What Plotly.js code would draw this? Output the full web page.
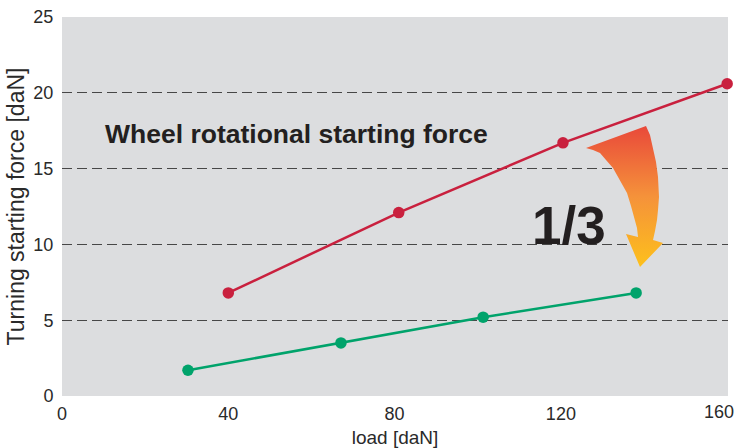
<!DOCTYPE html>
<html>
<head>
<meta charset="utf-8">
<script src="https://cdn.plot.ly/plotly-3.0.1.min.js"></script>
<style>html,body{margin:0;padding:0;background:#fff;}#chart{width:738px;height:448px;}</style>
</head>
<body>
<div id="chart"></div>
<script>
// ---- data ----
var wheelLoad = [40, 81, 120.5, 160];
var wheelForce = [6.8, 12.1, 16.7, 20.6];
var newLoad = [30.3, 67.1, 101.3, 138.1];
var newForce = [1.7, 3.5, 5.2, 6.8];
var xTicks = [0, 40, 80, 120, 160];
var yTicks = [0, 5, 10, 15, 20, 25];
var seriesLabel = "Wheel rotational starting force";
var ratioLabel = "1/3";

// ---- layout geometry ----
var W = 738, H = 448;
var M = {l: 62, r: 10, t: 17, b: 52};
var xMax = 160.2, yMax = 25;
var pw = W - M.l - M.r, ph = H - M.t - M.b;
function px2x(px) { return (px - M.l) / pw * xMax; }
function py2y(py) { return (H - M.b - py) / ph * yMax; }

// curved arrow outline (decoration), in pixel positions
var arrowPx = [
  [586,148],[646,126],[650,135],[653,147],[656,162],[658,177],[659,197],[658,210],[657,220],[655,231],[653,240],
  [663,243],[640,267],[626,234],[638,237],
  [637,228],[635,220],[631,206],[627,193],[620,180],[613,168],[606,160],[600,153],[593,150],[586,148]
];
var arrowX = arrowPx.map(function(p){return px2x(p[0]);});
var arrowY = arrowPx.map(function(p){return py2y(p[1]);});

var traces = [
  {
    x: arrowX, y: arrowY, type: 'scatter', mode: 'lines', fill: 'toself',
    line: {width: 0, color: 'rgba(0,0,0,0)'},
    fillcolor: '#f2843a',
    fillgradient: {type: 'vertical', colorscale: [[0, '#fdc01c'], [0.5, '#f5923a'], [1, '#e9493a']]},
    hoverinfo: 'skip', showlegend: false
  },
  {
    x: wheelLoad, y: wheelForce, type: 'scatter', mode: 'lines+markers',
    line: {color: '#c9203e', width: 2.5},
    marker: {color: '#c9203e', size: 11.5},
    cliponaxis: false, showlegend: false, name: seriesLabel
  },
  {
    x: newLoad, y: newForce, type: 'scatter', mode: 'lines+markers',
    line: {color: '#00a36b', width: 2.5},
    marker: {color: '#00a36b', size: 11.5},
    cliponaxis: false, showlegend: false
  }
];

var fam = '"Liberation Sans", Arial, sans-serif';
var tickFont = {family: fam, size: 18, color: '#2a2a2a'};
// the last x label is drawn as an annotation nudged left so that it stays inside the picture, as in the reference
var lastX = xTicks[xTicks.length - 1];
var xTickText = xTicks.map(function(v, i){ return i === xTicks.length - 1 ? '' : String(v); });
var layout = {
  width: W, height: H,
  margin: M,
  paper_bgcolor: '#ffffff',
  plot_bgcolor: '#dcdddf',
  showlegend: false,
  hovermode: false,
  xaxis: {
    range: [0, xMax], tickvals: xTicks, ticktext: xTickText,
    showgrid: false, zeroline: false, showline: false,
    ticks: 'outside', ticklen: 1, tickcolor: 'rgba(0,0,0,0)',
    tickfont: tickFont, fixedrange: true,
    title: {text: 'load [daN]', font: {family: fam, size: 19, color: '#2a2a2a'}, standoff: 8}
  },
  yaxis: {
    range: [0, yMax], tickvals: yTicks, ticktext: yTicks.map(String),
    showgrid: true, gridcolor: '#474747', gridwidth: 1.3, griddash: '10px,5px',
    zeroline: false, showline: false,
    ticks: 'outside', ticklen: 4, tickcolor: 'rgba(0,0,0,0)',
    ticklabeloverflow: 'allow',
    tickfont: tickFont, fixedrange: true,
    title: {text: 'Turning starting force [daN]', font: {family: fam, size: 23, color: '#2a2a2a'}, standoff: 2}
  },
  annotations: [
    {
      xref: 'x', yref: 'paper', x: lastX, y: 0, xshift: -8, yshift: -4,
      xanchor: 'center', yanchor: 'top', showarrow: false,
      text: String(lastX), font: tickFont
    },
    {
      xref: 'paper', yref: 'paper', x: (296 - M.l) / pw, y: (H - M.b - 134) / ph,
      xanchor: 'center', yanchor: 'middle', showarrow: false,
      text: '<b>' + seriesLabel + '</b>',
      font: {family: fam, size: 26.5, color: '#231f20'}
    },
    {
      xref: 'paper', yref: 'paper', x: (569 - M.l) / pw, y: (H - M.b - 225) / ph,
      xanchor: 'center', yanchor: 'middle', showarrow: false,
      text: '<b>' + ratioLabel + '</b>',
      font: {family: fam, size: 53, color: '#231f20'}
    }
  ]
};

Plotly.newPlot('chart', traces, layout, {displayModeBar: false, staticPlot: true});
</script>
</body>
</html>
